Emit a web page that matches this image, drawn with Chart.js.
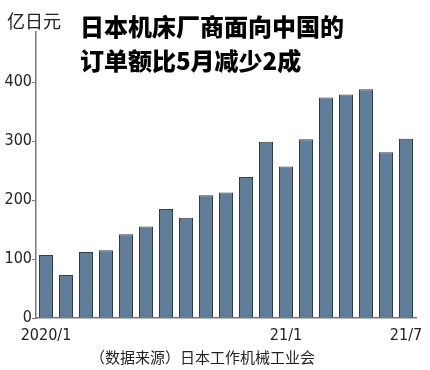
<!DOCTYPE html>
<html>
<head>
<meta charset="utf-8">
<script src="https://cdn.jsdelivr.net/npm/chart.js@4"></script>
<style>
  html, body { margin: 0; padding: 0; background: #fff; }
  .wrap { position: relative; width: 430px; height: 370px; }
  canvas { position: absolute; left: 0; top: 0; }
  .unit { position: absolute; left: 7px; top: 11px; font: 18px/18px "Noto Sans CJK SC", sans-serif; color: #222; }
  .title { position: absolute; left: 80px; top: 9px; font: 900 24px/34px "Noto Sans CJK SC", sans-serif; color: #000; }
  .source { position: absolute; left: 90px; top: 348px; font: 15px/18px "Noto Sans CJK SC", sans-serif; color: #222; }
</style>
</head>
<body>
<div class="wrap">
  <canvas id="barChart" width="430" height="370"></canvas>
  <div class="unit">亿日元</div>
  <div class="title">日本机床厂商面向中国的<br>订单额比5月减少2成</div>
  <div class="source">（数据来源）日本工作机械工业会</div>
</div>
<script>
  // Months from 2020/1 to 2021/7
  const months = ["2020/1", "2020/2", "2020/3", "2020/4", "2020/5", "2020/6", "2020/7", "2020/8", "2020/9",
    "2020/10", "2020/11", "2020/12", "21/1", "21/2", "21/3", "21/4", "21/5", "21/6", "21/7"];
  // Orders from China, 100 million yen
  const orders = [107, 73, 112, 115, 142, 155, 185, 170, 208, 213, 239, 299, 257, 303, 374, 379, 388, 281, 304];
  // Which x labels are printed
  const shownLabels = ["2020/1", "21/1", "21/7"];
  const yTicks = [0, 100, 200, 300, 400];

  const tickFont = { family: "'Liberation Sans Narrow', 'DejaVu Sans Condensed', sans-serif", size: 16 };

  const ctx = document.getElementById("barChart").getContext("2d");
  new Chart(ctx, {
    type: "bar",
    data: {
      labels: months,
      datasets: [{
        data: orders,
        backgroundColor: "#607d99",
        borderColor: "#333d47",
        borderWidth: 1,
        barPercentage: 0.7,
        categoryPercentage: 1,
      }],
    },
    options: {
      responsive: false,
      animation: false,
      layout: { padding: { top: 32, right: 14, left: 0, bottom: 0 } },
      plugins: { legend: { display: false }, tooltip: { enabled: false } },
      scales: {
        x: {
          grid: { display: false },
          border: { display: true, color: "#777", width: 1.5 },
          ticks: {
            autoSkip: false,
            maxRotation: 0,
            padding: 0,
            color: "#222",
            font: tickFont,
            callback: function (value) {
              const lab = this.getLabelForValue(value);
              return shownLabels.includes(lab) ? lab : "";
            },
          },
          afterFit: (scale) => { scale.height = 52; },
        },
        y: {
          min: 0,
          max: 485,
          grid: { drawOnChartArea: false, drawTicks: true, tickLength: 4, color: "#777" },
          border: { display: true, color: "#777", width: 1.5 },
          ticks: { padding: 0, color: "#222", font: tickFont },
          afterBuildTicks: (scale) => { scale.ticks = yTicks.map(v => ({ value: v })); },
          afterFit: (scale) => { scale.width = 36; },
        },
      },
    },
  });
</script>
</body>
</html>
